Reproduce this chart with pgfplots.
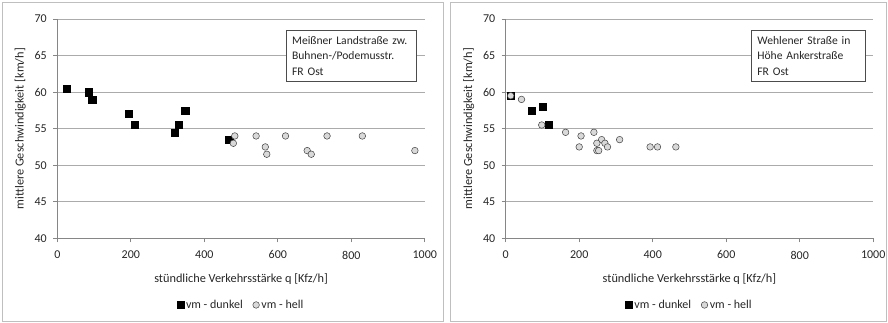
\documentclass[border=0pt]{standalone}
\usepackage{pgfplots}
\pgfplotsset{compat=1.18}
\usepackage{fontspec}
\setmainfont{Carlito}
\definecolor{axgray}{HTML}{868686}
\definecolor{gridgray}{HTML}{ABABAB}
\definecolor{framegray}{HTML}{BFBFBF}
\definecolor{hellfill}{HTML}{D9D9D9}
\definecolor{txt}{HTML}{262626}
\pgfplotsset{
  panel/.style={
    scale only axis, width=367.5pt, height=219.3pt,
    xmin=0, xmax=1000, ymin=40, ymax=70,
    xtick={0,200,...,1000}, ytick={40,45,...,70},
    axis x line*=bottom, axis y line*=left,
    axis line style={axgray, line width=0.8pt, -},
    tick align=outside, major tick length=4pt,
    tick style={axgray, line width=0.8pt},
    ymajorgrids, grid style={gridgray, line width=0.8pt},
    tick label style={font=\fontsize{12}{14}\selectfont, text=txt},
    yticklabel style={xshift=-3pt},
    xticklabel style={yshift=-5pt},
    /pgf/number format/assume math mode=true,
    /pgf/number format/1000 sep={},
    xlabel={stündliche Verkehrsstärke q [Kfz/h]},
    ylabel={mittlere Geschwindigkeit [km/h]},
    label style={font=\fontsize{12.3}{14}\selectfont, text=txt},
    xlabel style={at={(axis description cs:0.5,-0.187)}, anchor=center},
    ylabel style={at={(axis description cs:-0.1006,0.5)}, anchor=center},
    legend columns=2,
    legend style={at={(0.5,-0.304)}, anchor=center, draw=none, fill=none,
      font=\fontsize{12}{14}\selectfont, text=txt,
      /tikz/every even column/.append style={column sep=8pt}},
    legend cell align=left,
    clip=false,
  },
  dunkel/.style={only marks, mark=square*, mark size=3.6pt, mark options={fill=black, draw=black}},
  hell/.style={only marks, mark=*, mark size=3.3pt, mark options={fill=hellfill, draw=black!75, line width=0.5pt}},
}
\begin{document}
\begin{tikzpicture}[x=1pt,y=1pt]
\path[use as bounding box] (0,0) rectangle (888,322);
\draw[framegray, line width=1pt] (2.7,1) rectangle (443,319.3);
\draw[framegray, line width=1pt] (450,1) rectangle (886,319.3);

\begin{axis}[panel, at={(57.3pt,83.7pt)}, anchor=south west]
\addplot[dunkel] coordinates {
(25,60.5) (85,60) (95,59) (195,57) (211,55.5) (320,54.5) (331,55.5) (348,57.5) (468,53.5)
};
\addlegendentry{vm - dunkel}
\addplot[hell] coordinates {
(483,54) (479,53) (541,54) (566,52.5) (570,51.5) (621,54) (680,52) (691,51.5) (734,54) (830,54) (973,52)
};
\addlegendentry{vm - hell}
\node[draw=black!70, fill=white, anchor=north west, align=left, text width=118pt,
  inner xsep=6pt, inner ysep=4pt, minimum height=51pt,
  font=\fontsize{11.6}{15.5}\selectfont, text=txt] at (axis cs:622,68.5)
  {Meißner Landstraße zw.\\Buhnen-/Podemusstr.\\FR Ost};
\end{axis}

\begin{axis}[panel, at={(505.7pt,83.7pt)}, anchor=south west]
\addplot[dunkel] coordinates {
(13.6,59.5) (71,57.5) (101.5,58) (118,55.5)
};
\addlegendentry{vm - dunkel}
\addplot[hell] coordinates {
(13.6,59.5) (43,59) (98,55.5) (163,54.5) (205,54) (200,52.5) (240,54.5) (261,53.5) (248,53)
(270,53) (277,52.5) (248,52) (253,52) (310,53.5) (393,52.5) (413,52.5) (463,52.5)
};
\addlegendentry{vm - hell}
\node[draw=black!70, fill=white, anchor=north west, align=left, text width=102pt,
  inner xsep=6pt, inner ysep=4pt, minimum height=51pt,
  font=\fontsize{11.6}{15.5}\selectfont, text=txt] at (axis cs:668,68.5)
  {Wehlener Straße in\\Höhe Ankerstraße\\FR Ost};
\end{axis}
\end{tikzpicture}
\end{document}
